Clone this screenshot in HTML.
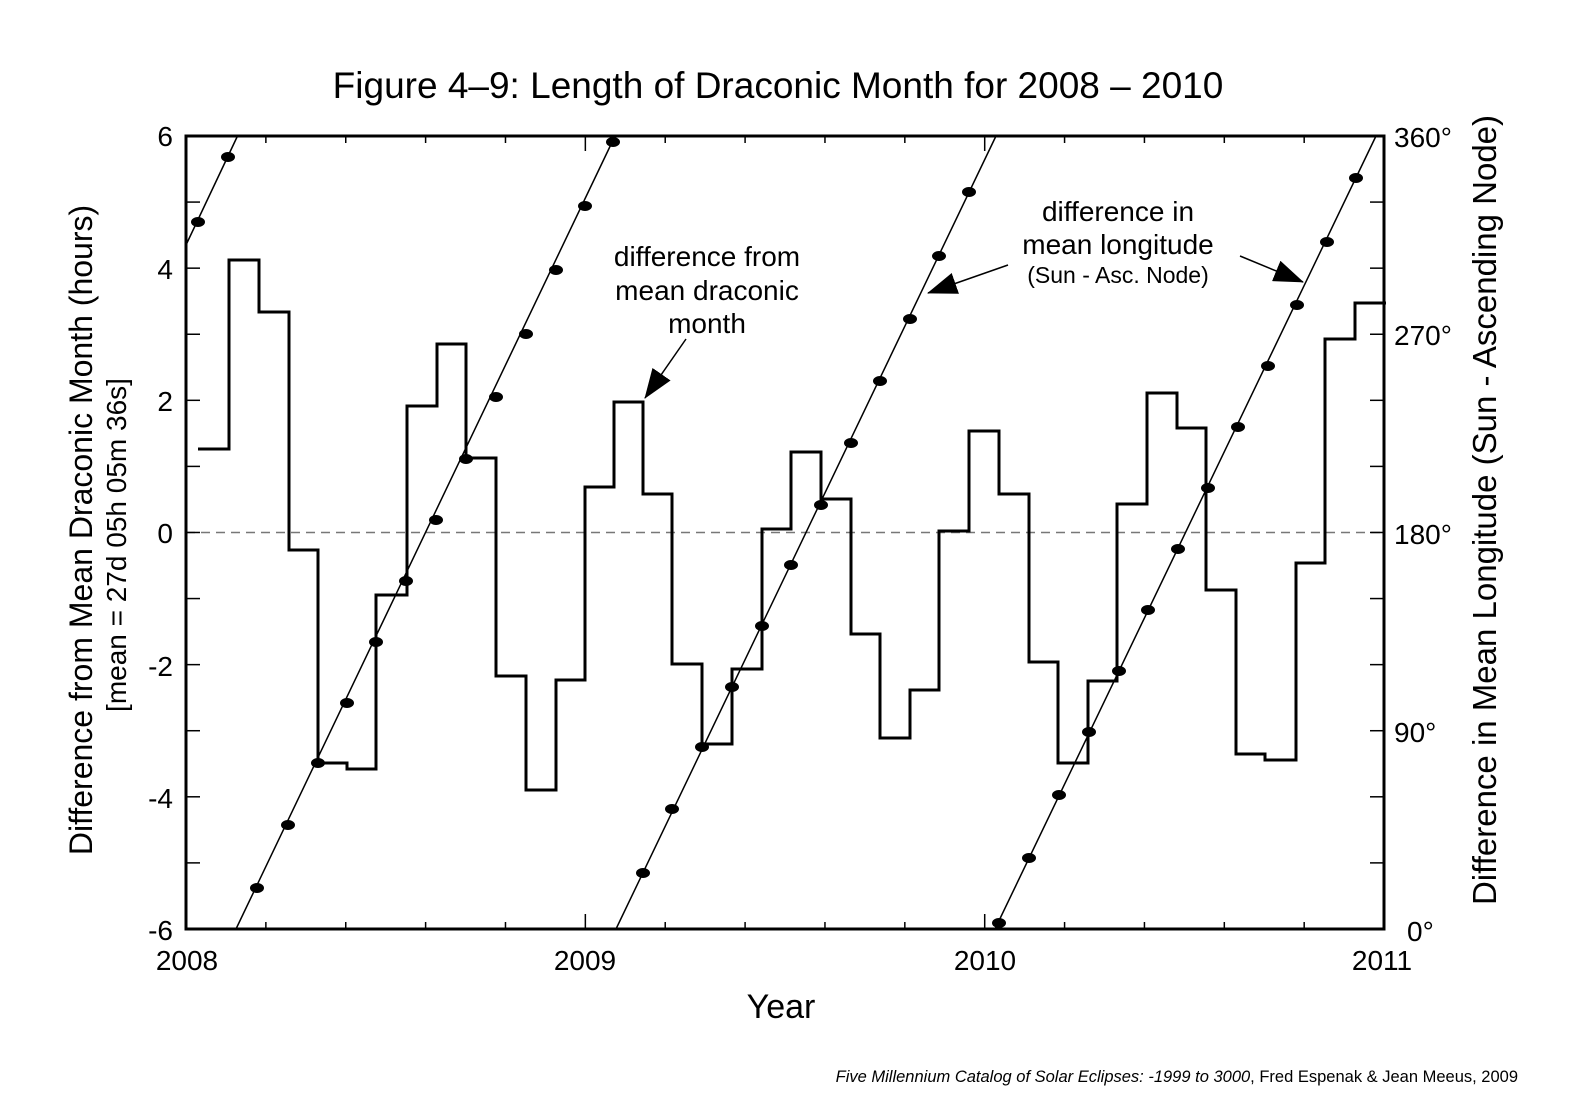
<!DOCTYPE html>
<html><head><meta charset="utf-8"><style>
body{margin:0;background:#fff}
svg{display:block}
text{font-family:"Liberation Sans",Arial,sans-serif;fill:#000}
</style></head><body>
<svg id="s" width="1575" height="1100" viewBox="0 0 1575 1100" xmlns="http://www.w3.org/2000/svg">
<defs>
<marker id="ah2" markerWidth="30" markerHeight="22" refX="29" refY="11" orient="auto" markerUnits="userSpaceOnUse" viewBox="0 0 30 22"><path d="M0,0 L30,11 L0,22z" fill="#000"/></marker></defs>
<text x="778" y="98" font-size="37" text-anchor="middle">Figure 4–9: Length of Draconic Month for 2008 – 2010</text>
<line x1="186" y1="532.5" x2="1384" y2="532.5" stroke="#777" stroke-width="1.5" stroke-dasharray="9,6"/>
<g id="ticks" stroke="#000" stroke-width="1.5"></g>
<path fill="none" stroke="#000" stroke-width="3" d="M198,449 H229 V260 H259 V312 H289 V550 H318 V763 H347 V769 H376 V595 H407 V406 H437 V344 H466 V458 H496 V676 H526 V790 H556 V680 H585 V487 H614 V402 H643 V494 H672 V664 H702 V744 H732 V669 H762 V529 H791 V452 H821 V499 H851 V634 H880 V738 H910 V690 H939 V531 H969 V431 H999 V494 H1029 V662 H1058 V763 H1088 V681 H1117 V504 H1147 V393 H1177 V428 H1206 V590 H1236 V754 H1265 V760 H1296 V563 H1325 V339 H1355 V303 H1386"/>
<g stroke="#000" stroke-width="1.5">
<line x1="186" y1="245" x2="237.5" y2="136"/>
<line x1="236" y1="929" x2="615" y2="136"/>
<line x1="616" y1="929" x2="996" y2="136"/>
<line x1="995" y1="929" x2="1376" y2="136"/>
</g>
<g id="dots"></g>
<rect x="186" y="136" width="1198" height="793" fill="none" stroke="#000" stroke-width="3"/>
<g font-size="28" text-anchor="end">
<text x="173" y="146">6</text><text x="173" y="279">4</text><text x="173" y="411">2</text><text x="173" y="543">0</text><text x="173" y="676">-2</text><text x="173" y="808">-4</text><text x="173" y="940">-6</text>
</g>
<g font-size="28" text-anchor="start">
<text x="1394" y="147">360°</text><text x="1394" y="345">270°</text><text x="1394" y="544">180°</text><text x="1394" y="742">90°</text><text x="1407" y="941">0°</text>
</g>
<g font-size="28" text-anchor="middle">
<text x="187" y="970">2008</text><text x="585" y="970">2009</text><text x="985" y="970">2010</text><text x="1382" y="970">2011</text>
</g>
<text x="781" y="1018" font-size="34" text-anchor="middle">Year</text>
<text transform="translate(92,530) rotate(-90)" font-size="32" text-anchor="middle">Difference from Mean Draconic Month (hours)</text>
<text transform="translate(126,545) rotate(-90)" font-size="28" text-anchor="middle">[mean = 27d 05h 05m 36s]</text>
<text transform="translate(1496,510) rotate(-90)" font-size="33" text-anchor="middle">Difference in Mean Longitude (Sun - Ascending Node)</text>
<g font-size="28" text-anchor="middle">
<text x="707" y="266">difference from</text><text x="707" y="300">mean draconic</text><text x="707" y="333">month</text>
<text x="1118" y="221">difference in</text><text x="1118" y="254">mean longitude</text>
</g>
<text x="1118" y="283" font-size="23" text-anchor="middle">(Sun - Asc. Node)</text>
<g stroke="#000" stroke-width="1.5">
<line x1="686" y1="339" x2="645" y2="398" marker-end="url(#ah2)"/>
<line x1="1008" y1="265" x2="928" y2="293" marker-end="url(#ah2)"/>
<line x1="1240" y1="256" x2="1303" y2="282" marker-end="url(#ah2)"/>
</g>
<text x="1518" y="1082" font-size="16.5" text-anchor="end"><tspan font-style="italic">Five Millennium Catalog of Solar Eclipses: -1999 to 3000</tspan>, Fred Espenak &amp; Jean Meeus, 2009</text>
</svg>
<script>
var NS="http://www.w3.org/2000/svg";
function el(p,t,a){var e=document.createElementNS(NS,t);for(var k in a)e.setAttribute(k,a[k]);p.appendChild(e);}
var g=document.getElementById("ticks");
for(var i=1;i<12;i++){var y=136+i*66.08;el(g,"line",{x1:186,y1:y,x2:200,y2:y});el(g,"line",{x1:1370,y1:y,x2:1384,y2:y});}
for(var i=1;i<15;i++){var x=186+i*79.87;var L=(i%5==0)?15:7;el(g,"line",{x1:x,y1:929,x2:x,y2:929-L});el(g,"line",{x1:x,y1:136,x2:x,y2:136+L});}
var d=[[198,222],[228,157],[257,888],[288,825],[318,763],[347,703],[376,642],[406,581],[436,520],[466,459],[496,397],[526,334],[556,270],[585,206],[613,142],[643,873],[672,809],[702,747],[732,687],[762,626],[791,565],[821,505],[851,443],[880,381],[910,319],[939,256],[969,192],[999,923],[1029,858],[1059,795],[1089,732],[1119,671],[1148,610],[1178,549],[1208,488],[1238,427],[1268,366],[1297,305],[1327,242],[1356,178]];
var dg=document.getElementById("dots");
d.forEach(function(p){el(dg,"ellipse",{cx:p[0],cy:p[1],rx:7,ry:5,fill:"#000"});});
</script>
</body></html>
